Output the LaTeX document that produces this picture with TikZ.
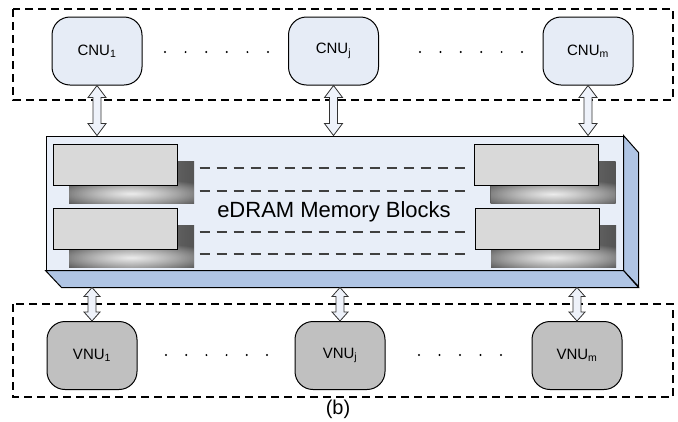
\documentclass[tikz,border=0pt]{standalone}
\usepackage{fontspec}
\setmainfont{Liberation Sans}
\usetikzlibrary{calc,fadings}

\definecolor{cnufill}{RGB}{230,236,246}
\definecolor{memfront}{RGB}{232,238,248}
\definecolor{memside}{RGB}{176,197,228}
\definecolor{vnufill}{RGB}{192,192,192}
\definecolor{blkfill}{RGB}{217,217,217}
\definecolor{blkdark}{RGB}{84,84,84}
\definecolor{blkmid}{RGB}{122,122,122}
\definecolor{arrowfill}{RGB}{238,242,250}
\definecolor{linkdash}{RGB}{64,64,64}

\tikzfading[name=glow, inner color=transparent!0, outer color=transparent!100]

\tikzset{
  unit/.style={draw=black, line width=1pt, rounded corners=18pt,
    minimum width=90pt, minimum height=68pt, inner sep=0pt,
    font=\fontsize{15}{18}\selectfont},
  cnu/.style={unit, fill=cnufill},
  vnu/.style={unit, fill=vnufill},
  group/.style={draw=black, dash pattern=on 8pt off 5pt, line width=1.1pt},
  dbl/.style={draw=black!80, fill=arrowfill, line width=0.8pt, line join=miter},
  dotmark/.style={fill=black},
  link/.style={draw=linkdash, dash pattern=on 10pt off 7pt, line width=1.1pt},
  blkfront/.style={draw=black, fill=blkfill, line width=1pt,
    minimum width=124pt, minimum height=41pt, inner sep=0pt},
  slab/.style={draw=black, line width=1pt},
}

% vertical double-headed block arrow from a top point to a bottom point
% #3 head length, #4 head half width, #5 shaft half width
\newcommand\dblarrow[5]{%
  \draw[dbl] let \p1=(#1), \p2=(#2) in
    (\x1,\y1) -- (\x1+#4,\y1-#3) -- (\x1+#5,\y1-#3) -- (\x1+#5,\y2+#3)
    -- (\x1+#4,\y2+#3) -- (\x1,\y2) -- (\x1-#4,\y2+#3) -- (\x1-#5,\y2+#3)
    -- (\x1-#5,\y1-#3) -- (\x1-#4,\y1-#3) -- cycle;}

% memory block: shaded shadow plate behind a grey front plate
\newcommand\memblk[3]{%
  \shade[left color=blkdark, right color=blkdark, middle color=blkmid]
    (#2-46,#3-3.5) rectangle (#2+79,#3+38.5);
  \begin{scope}
    \clip (#2-46,#3-3.5) rectangle (#2+79,#3+38.5);
    \fill[white!85!gray, path fading=glow] (#2+16.5,#3+29) ellipse (90 and 15);
  \end{scope}
  \node[blkfront] (#1) at (#2,#3) {};}

\begin{document}
\begin{tikzpicture}[x=1pt, y=-1pt]
  \useasboundingbox (0,0) rectangle (678,421);

  % dashed group frames
  \draw[group] (13,9) rectangle (673,100);
  \draw[group] (13,304) rectangle (673,397);

  % check node units
  \node[cnu] (cnu1) at (97,51) {CNU\textsubscript{1}};
  \node[cnu] (cnuj) at (333.5,51) {CNU\textsubscript{j}};
  \node[cnu] (cnum) at (588,51) {CNU\textsubscript{m}};

  % variable node units
  \node[vnu] (vnu1) at (92,355.5) {VNU\textsubscript{1}};
  \node[vnu] (vnuj) at (340,355.5) {VNU\textsubscript{j}};
  \node[vnu] (vnum) at (577,355.5) {VNU\textsubscript{m}};

  % ellipsis dots
  \foreach \k in {0,...,5} {
    \fill[dotmark] (165+20.6*\k,52) circle (1.1pt);
    \fill[dotmark] (420+20.4*\k,52) circle (1.1pt);
    \fill[dotmark] (166+20.2*\k,355) circle (1.1pt);
  }
  \foreach \k in {0,...,4}
    \fill[dotmark] (419+20.5*\k,355) circle (1.1pt);

  % eDRAM slab: front face and bevelled side faces
  \node[slab, fill=memfront, minimum width=577pt,
        minimum height=134pt, inner sep=0pt] (mem) at (334.5,203) {};
  \filldraw[slab, fill=memside]
    (mem.north east) -- ++(15,17) -- ++(0,134) -- (mem.south east) -- cycle;
  \filldraw[slab, fill=memside]
    (mem.south west) -- (mem.south east) -- ++(15,17) -- ($(mem.south west)+(16,17)$) -- cycle;
  \coordinate (membase) at ([yshift=-17pt]mem.south);

  % memory blocks
  \memblk{blkL1}{115}{164.5}
  \memblk{blkL2}{115}{228.5}
  \memblk{blkR1}{536.5}{165}
  \memblk{blkR2}{537}{228.5}

  % dashed links between block columns
  \draw[link] ([xshift=22pt,yshift=-3.5pt]blkL1.east) -- ([xshift=-6pt,yshift=-3pt]blkR1.west);
  \draw[link] ([xshift=22pt,yshift=-26.5pt]blkL1.east) -- ([xshift=-6pt,yshift=-26pt]blkR1.west);
  \draw[link] ([xshift=22pt,yshift=-3.5pt]blkL2.east) -- ([xshift=-6pt,yshift=-3.5pt]blkR2.west);
  \draw[link] ([xshift=22pt,yshift=-25.5pt]blkL2.east) -- ([xshift=-6pt,yshift=-25.5pt]blkR2.west);

  \node[font=\fontsize{22}{26}\selectfont] (memlabel) at (334,212) {eDRAM Memory Blocks};

  % data paths between units and memory
  \dblarrow{cnu1.south}{cnu1.south |- mem.north}{12pt}{9pt}{4pt}
  \dblarrow{cnuj.south}{cnuj.south |- mem.north}{12pt}{9pt}{4pt}
  \dblarrow{cnum.south}{cnum.south |- mem.north}{12pt}{9pt}{4pt}
  \dblarrow{vnu1.north |- membase}{vnu1.north}{9pt}{8pt}{4pt}
  \dblarrow{vnuj.north |- membase}{vnuj.north}{9pt}{8pt}{4pt}
  \dblarrow{vnum.north |- membase}{vnum.north}{9pt}{8pt}{4pt}

  \node[font=\fontsize{20}{24}\selectfont] (caption) at (338,409) {(b)};
\end{tikzpicture}
\end{document}
